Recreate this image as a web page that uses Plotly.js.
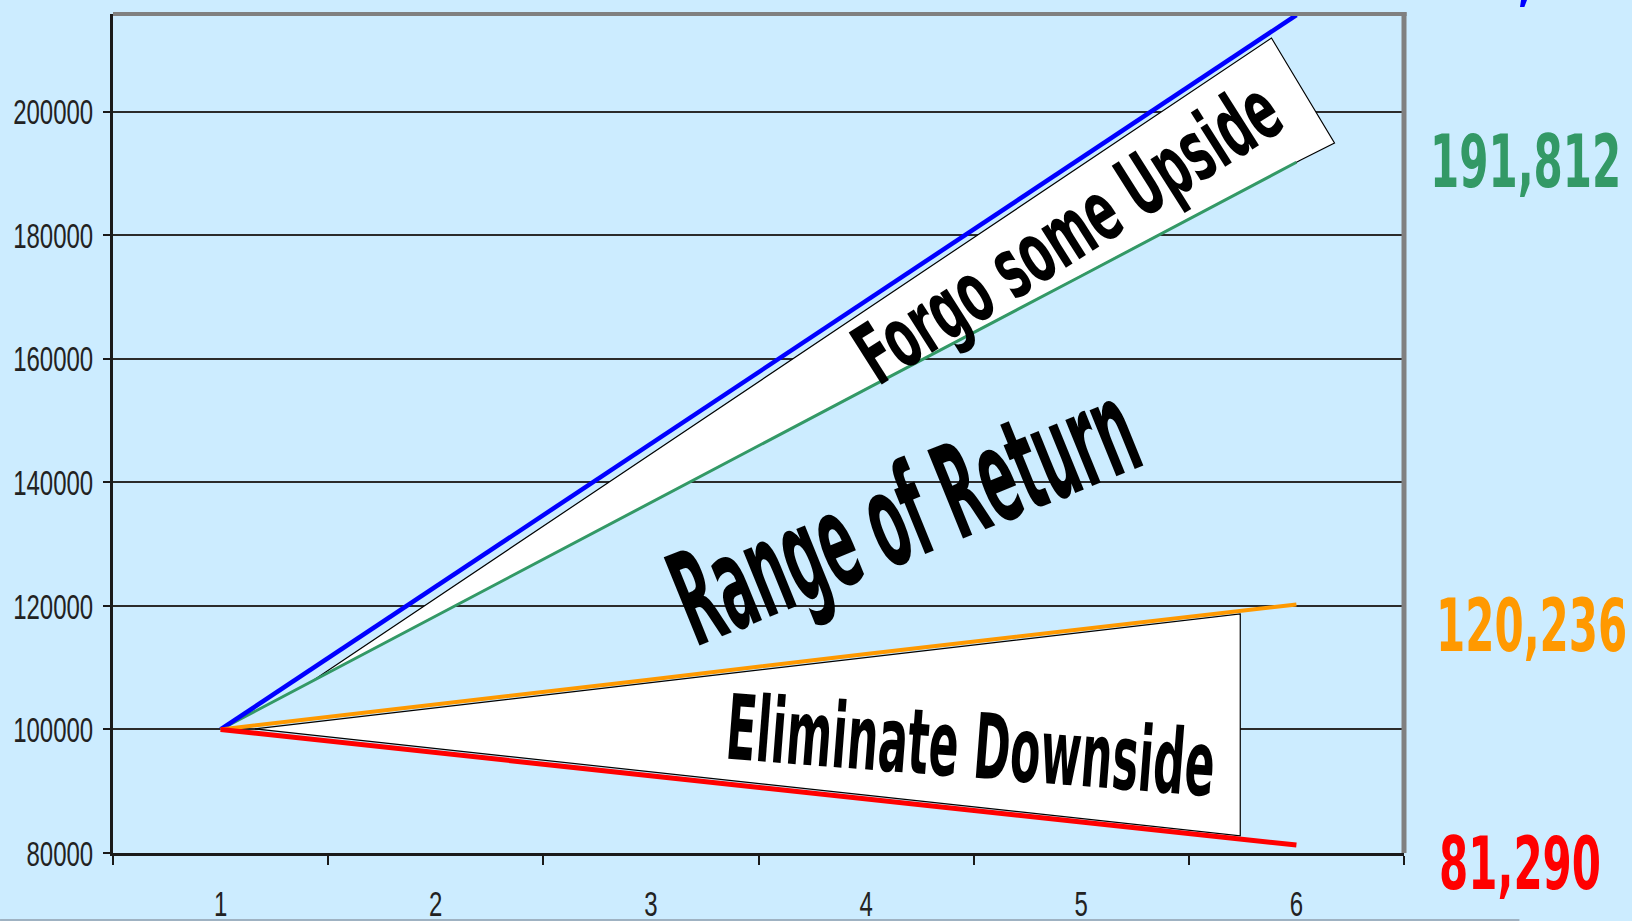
<!DOCTYPE html>
<html>
<head>
<meta charset="utf-8">
<script src="https://cdn.plot.ly/plotly-3.0.1.min.js"></script>
<style>
  html, body { margin: 0; padding: 0; background: #CCECFF; overflow: hidden; }
  #chart { width: 1632px; height: 921px; }
</style>
</head>
<body>
<div id="chart"></div>
<script>
// Five-year growth of 100,000 under four outcomes
const periods = [1, 2, 3, 4, 5, 6];
const periodLabels = ['1', '2', '3', '4', '5', '6'];
const upsideValues   = [100000, 123100, 146300, 169400, 192500, 215647];
const cappedValues   = [100000, 118400, 136700, 155100, 173400, 191812];
const flooredValues  = [100000, 104000, 108100, 112200, 116200, 120236];
const downsideValues = [100000, 96300, 92500, 88800, 85000, 81290];
const valueTicks = [80000, 100000, 120000, 140000, 160000, 180000, 200000];

const BG = '#CCECFF';
const INK = '#1a1a1a';
const fmt = v => String(v).replace(/\B(?=(\d{3})+(?!\d))/g, ',');
const last = a => a[a.length - 1];

const lineTrace = (y, color, width) => ({
  x: periods, y: y, type: 'scatter', mode: 'lines',
  line: { color: color, width: width }, hoverinfo: 'skip', showlegend: false
});

const traces = [
  lineTrace(cappedValues, '#339966', 3),
  lineTrace(upsideValues, '#0000FF', 4.5),
  lineTrace(flooredValues, '#FF9900', 4),
  lineTrace(downsideValues, '#FF0000', 5)
];

// white callout wedges, drawn in data coordinates
const pathOf = pts => 'M ' + pts.map(p => p[0] + ',' + p[1]).join(' L ') + ' Z';
const upsideWedge = [[1.4245, 107800], [5.884, 211930], [6.177, 194934], [6.02, 192180]];
const downsideWedge = [[1.16, 100100], [5.739, 118700], [5.739, 82780]];

const shapes = [
  { type: 'path', xref: 'x', yref: 'y', path: pathOf(upsideWedge), fillcolor: '#ffffff',
    line: { color: '#000', width: 1.2 }, layer: 'between' },
  { type: 'path', xref: 'x', yref: 'y', path: pathOf(downsideWedge), fillcolor: '#ffffff',
    line: { color: '#000', width: 1.2 }, layer: 'between' },
  // grey frame on top and right
  { type: 'line', xref: 'paper', yref: 'paper', x0: 0, x1: 1.002, y0: 1, y1: 1,
    line: { color: '#808080', width: 4 } },
  { type: 'line', xref: 'paper', yref: 'paper', x0: 1, x1: 1, y0: 0, y1: 1.002,
    line: { color: '#808080', width: 5 } },
  // thin rule along the bottom edge of the page
  { type: 'line', xref: 'paper', yref: 'paper', x0: -0.0875, x1: 1.0894, y0: -0.0799, y1: -0.0799,
    line: { color: '#9fb2c2', width: 2 } }
];

const bold = (size, color) => ({ family: 'DejaVu Sans, Verdana, sans-serif', size: size, color: color, weight: 700 });

const note = (text, xref, x, y, angle, font) => ({
  text: text, xref: xref, yref: xref === 'paper' ? 'paper' : 'y', x: x, y: y,
  textangle: angle, xanchor: 'center', yanchor: 'middle', showarrow: false, font: font
});

const annotations = [
  note('Forgo some Upside', 'x', 4.934, 180400, -32.4, bold(45, '#000')),
  note('Range of Return', 'x', 4.175, 134900, -22.1, bold(53, '#000')),
  note('Eliminate Downside', 'x', 4.488, 97480, 4.4, bold(44, '#000')),
  note(fmt(last(upsideValues)), 'paper', 1.0941, 1.0507, 0, bold(42, '#0000FF')),
  note(fmt(last(cappedValues)), 'paper', 1.0941, 0.8242, 0, bold(42, '#339966')),
  note(fmt(last(flooredValues)), 'paper', 1.0986, 0.2706, 0, bold(42, '#FF9900')),
  note(fmt(last(downsideValues)), 'paper', 1.0901, -0.0123, 0, bold(42, '#FF0000'))
];
// vertical stretch applied to each annotation's glyphs (tall, narrow lettering)
const annotationStretch = [1.88, 2.46, 2.06, 1.73, 1.73, 1.73, 1.73];

const tickFont = { family: 'Liberation Sans, Arial, sans-serif', size: 24, color: '#222' };

const layout = {
  width: 1632, height: 921,
  margin: { l: 113, r: 227.5, t: 14, b: 68, pad: 0, autoexpand: false },
  paper_bgcolor: BG, plot_bgcolor: BG,
  showlegend: false,
  xaxis: {
    type: 'linear', range: [0.5, 6.5], fixedrange: true,
    tickmode: 'array', tickvals: periods, ticktext: periodLabels,
    ticks: '', ticklabelstandoff: 27, tickfont: tickFont,
    showgrid: false, zeroline: false,
    showline: true, linecolor: INK, linewidth: 3,
    minor: { ticks: 'outside', ticklen: 9, tickwidth: 2, tickcolor: INK,
             tickmode: 'linear', tick0: 0.5, dtick: 1, showgrid: false }
  },
  yaxis: {
    range: [80000, 215815], fixedrange: true,
    tickmode: 'array', tickvals: valueTicks, ticktext: valueTicks.map(String),
    ticks: 'outside', ticklen: 7, tickwidth: 2, tickcolor: INK,
    ticklabelstandoff: 5, tickfont: tickFont,
    showgrid: true, gridcolor: '#2b2b2b', gridwidth: 2,
    zeroline: false, showline: true, linecolor: INK, linewidth: 3
  },
  shapes: shapes,
  annotations: annotations
};

function stretchY(el, k) {
  const bb = el.getBBox();
  const cy = bb.y + bb.height / 2;
  const base = el.getAttribute('transform') || '';
  el.setAttribute('transform', (base + ' translate(0 ' + cy + ') scale(1 ' + k + ') translate(0 ' + (-cy) + ')').trim());
}

Plotly.newPlot('chart', traces, layout, { staticPlot: true, displayModeBar: false }).then(gd => {
  gd.querySelectorAll('.xtick text, .ytick text').forEach(el => stretchY(el, 1.5));
  gd.querySelectorAll('.annotation').forEach(g => {
    const i = +g.getAttribute('data-index');
    const t = g.querySelector('text.annotation-text');
    if (t && annotationStretch[i]) stretchY(t, annotationStretch[i]);
  });
});
</script>
</body>
</html>
